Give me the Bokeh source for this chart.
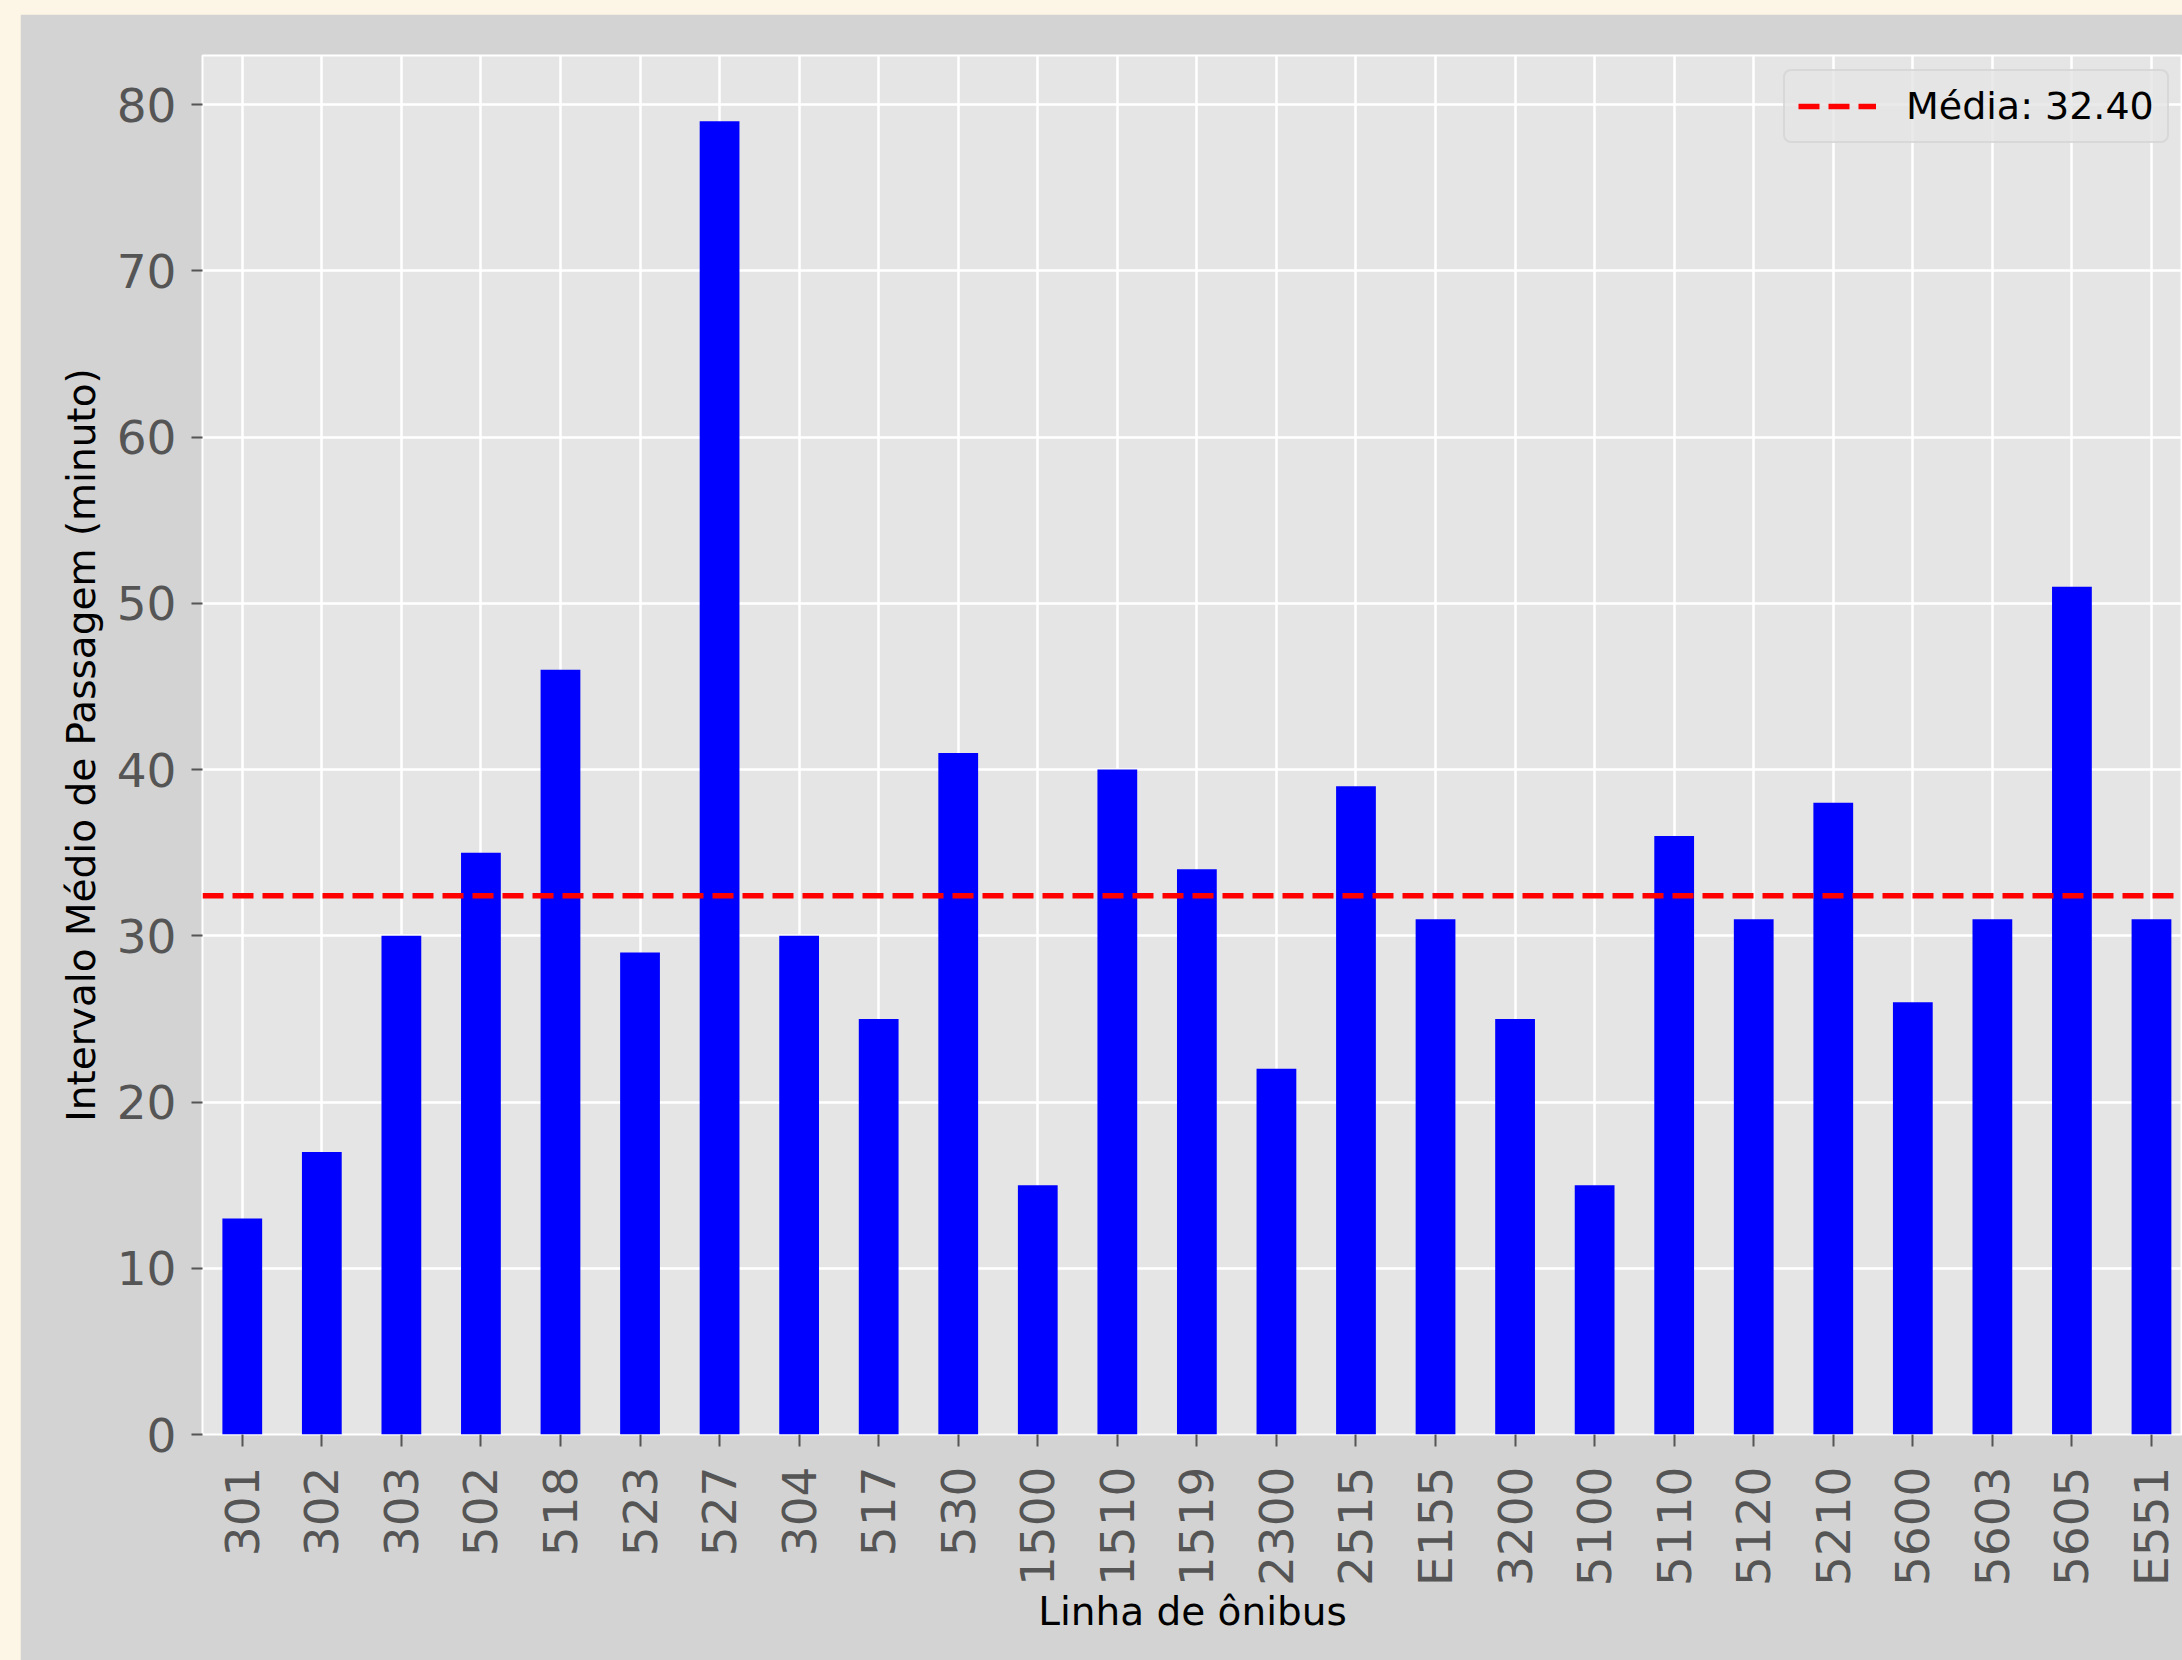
import math
from bokeh.plotting import figure
from bokeh.models import Range1d, FixedTicker, Legend, LegendItem, ColumnDataSource
from bokeh.layouts import column
from bokeh.embed import file_html
from bokeh.resources import INLINE

# ---- data ----
linhas = ["301", "302", "303", "502", "518", "523", "527", "304", "517", "530",
          "1500", "1510", "1519", "2300", "2515", "E155", "3200", "5100", "5110",
          "5120", "5210", "5600", "5603", "5605", "E551"]
intervalos = [13, 17, 30, 35, 46, 29, 79, 30, 25, 41,
              15, 40, 34, 22, 39, 31, 25, 15, 36,
              31, 38, 26, 31, 51, 31]
y_ticks = [0, 10, 20, 30, 40, 50, 60, 70, 80]

media = sum(intervalos) / len(intervalos)
idx = list(range(len(linhas)))

FONT = "DejaVu Sans"
FIG_BG = "#D3D3D3"
AX_BG = "#E5E5E5"
PAGE_BG = "#FDF5E6"

src = ColumnDataSource(data=dict(x=idx, top=intervalos, linha=linhas))

p = figure(width=2162, height=1646,
           x_range=Range1d(-0.5, 24.39), y_range=Range1d(0, max(intervalos) * 1.05),
           output_backend="svg", toolbar_location=None,
           min_border_left=182, min_border_right=0, min_border_top=41, min_border_bottom=226)

p.background_fill_color = AX_BG
p.border_fill_color = FIG_BG
p.outline_line_color = "white"
p.outline_line_width = 2

p.vbar(x="x", top="top", width=0.5, source=src, fill_color="#0000FF", line_color=None)

mean_src = ColumnDataSource(data=dict(x=[-0.5, len(linhas) - 0.5], y=[media, media]))
mean_r = p.line(x="x", y="y", source=mean_src, line_color="#FF0000", line_width=5.5, line_dash="21 9")

# axes
xa = p.xaxis[0]
xa.ticker = FixedTicker(ticks=idx)
xa.major_label_overrides = {i: n for i, n in zip(idx, linhas)}
xa.major_label_orientation = math.pi / 2
xa.axis_label = "Linha de ônibus"
xa.axis_label_standoff = 0
xa.major_label_standoff = 20
xa.major_tick_out = 12

ya = p.yaxis[0]
ya.ticker = FixedTicker(ticks=y_ticks)
ya.axis_label = "Intervalo Médio de Passagem (minuto)"
ya.axis_label_standoff = 10
ya.major_label_standoff = 15
ya.major_tick_out = 11

for ax in (xa, ya):
    ax.axis_line_color = None
    ax.major_tick_in = 0
    ax.major_tick_line_color = "#555555"
    ax.major_tick_line_width = 2
    ax.minor_tick_line_color = None
    ax.major_label_text_font = FONT
    ax.major_label_text_font_size = "47px"
    ax.major_label_text_color = "#555555"
    ax.axis_label_text_font = FONT
    ax.axis_label_text_font_size = "39px"
    ax.axis_label_text_font_style = "normal"
    ax.axis_label_text_color = "black"

p.xgrid.grid_line_color = "white"
p.xgrid.grid_line_width = 2.5
p.ygrid.grid_line_color = "white"
p.ygrid.grid_line_width = 2.5
p.ygrid.ticker = FixedTicker(ticks=y_ticks)

legend = Legend(items=[LegendItem(label=f"Média: {media:.2f}", renderers=[mean_r])],
                location=(1581, 1291))
legend.label_text_font = FONT
legend.label_text_font_size = "38px"
legend.label_text_color = "black"
legend.glyph_width = 78
legend.glyph_height = 42
legend.label_standoff = 30
legend.padding = 13
legend.spacing = 0
legend.margin = 0
legend.background_fill_color = AX_BG
legend.background_fill_alpha = 0.8
legend.border_line_color = "#CCCCCC"
legend.border_line_width = 2
legend.border_radius = 8
p.add_layout(legend, "center")

root = column(p, styles={"position": "absolute", "left": "0px", "top": "0px",
                         "padding": "14px 0px 0px 20px",
                         "background-color": PAGE_BG})

open("out.html", "w").write(file_html(root, INLINE))
